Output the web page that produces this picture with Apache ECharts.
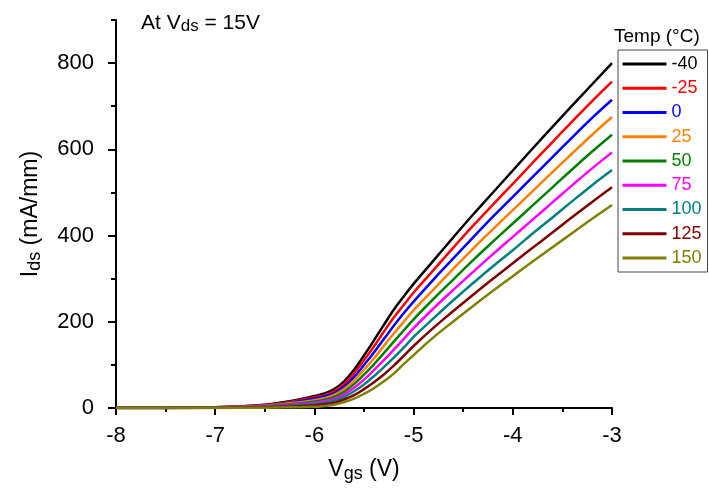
<!DOCTYPE html>
<html>
<head>
<meta charset="utf-8">
<script src="https://cdn.jsdelivr.net/npm/echarts@6/dist/echarts.min.js"></script>
<style>
html,body{margin:0;padding:0;background:#fff;}
#c{width:709px;height:488px;}
</style>
</head>
<body>
<div id="c"></div>
<script>
// Gate voltage samples (V)
var vgs = [-8, -7.5, -7, -6.5, -6.25, -6, -5.9, -5.8, -5.7, -5.6, -5.5, -5.4, -5.3, -5.2, -5.1, -5, -4.8, -4.6, -4.4, -4.2, -4, -3.8, -3.6, -3.4, -3.2, -3];
// Temperatures (°C)
var temps = ['-40', '-25', '0', '25', '50', '75', '100', '125', '150'];
// Ids (mA/mm) per temperature
var ids_m40 = [0, 0.5, 2, 8, 16, 28, 34, 44, 62, 89, 122, 157, 193, 228, 259, 288, 342, 396, 449, 500, 551, 602, 652, 702, 751, 800];
var ids_m25 = [0, 0.4, 1.8, 7, 14, 25, 30, 39.5, 56, 81, 111, 143, 177, 210, 239, 268, 320, 372, 423, 472, 520, 569, 617, 665, 712, 757];
var ids_0   = [0, 0.4, 1.6, 6, 12.5, 22, 27, 35, 50, 72, 100, 129, 160, 191, 220, 247, 298, 347, 396, 444, 490, 536, 582, 628, 673, 715];
var ids_25  = [0, 0.3, 1.4, 5.4, 11, 18.5, 23, 30.5, 44, 64, 89, 115, 144, 173, 200, 227, 275, 323, 370, 415, 459, 503, 547, 591, 634, 675];
var ids_50  = [0, 0.2, 1.2, 4.5, 9, 15.5, 19.5, 26, 38, 55.5, 77.5, 101.5, 127.5, 154, 180, 206, 253, 298, 343, 386, 428, 470, 512, 554, 595, 634];
var ids_75  = [0, 0.2, 1, 3.6, 7.3, 12.4, 16, 21.5, 32, 47, 66, 88, 111, 135.5, 160, 185.5, 231, 274, 316, 357, 397, 437, 477, 517, 556, 593];
var ids_100 = [0, 0.1, 0.8, 2.8, 5.5, 9.3, 12, 17, 26, 39, 55, 74, 95, 117, 140, 165, 208, 250, 290, 329, 366, 405, 442, 480, 517, 552];
var ids_125 = [0, 0.1, 0.5, 1.9, 3.8, 6, 8.6, 12.5, 20, 30, 44, 60, 78, 98.5, 121, 144, 186, 225, 263, 300, 336, 372, 407, 443, 478, 512];
var ids_150 = [0, 0, 0.3, 1, 2, 3, 5, 8, 14, 22, 33, 46, 62, 80, 102, 123, 164, 201, 237, 272, 306, 340, 373, 406, 439, 471];
var yMajor = [0, 200, 400, 600, 800];
var yMinor = [100, 300, 500, 700, 900];

var allIds = [ids_m40, ids_m25, ids_0, ids_25, ids_50, ids_75, ids_100, ids_125, ids_150];
var colors = ['#000000', '#ff0000', '#0000ff', '#ff8000', '#008000', '#ff00ff', '#008080', '#800000', '#808000'];

var FONT = '"Liberation Sans", Arial, sans-serif';

var series = temps.map(function (t, i) {
  return {
    name: t,
    type: 'line',
    data: vgs.map(function (v, j) { return [v, allIds[i][j]]; }),
    showSymbol: false,
    symbol: 'none',
    smooth: 0.4,
    lineStyle: { color: colors[i], width: 2.5 },
    itemStyle: { color: colors[i] },
    emphasis: { disabled: true }
  };
});

var chart = echarts.init(document.getElementById('c'), null, { renderer: 'canvas' });
chart.setOption({
  animation: false,
  backgroundColor: '#ffffff',
  textStyle: { fontFamily: FONT },
  title: [
    {
      text: '{a|At V}{s|ds}{a| = 15V}',
      left: 136, top: 7,
      textStyle: {
        fontWeight: 'normal',
        rich: {
          a: { fontSize: 21, fontWeight: 'normal', fontFamily: FONT, color: '#000', lineHeight: 23 },
          s: { fontSize: 17, fontWeight: 'normal', fontFamily: FONT, color: '#000', lineHeight: 17, padding: [11, 0, 0, 0], verticalAlign: 'bottom' }
        }
      }
    },
    {
      text: 'Temp (°C)',
      left: 609, top: 22,
      textStyle: { fontSize: 19, fontWeight: 'normal', fontFamily: FONT, color: '#000' }
    }
  ],
  legend: {
    orient: 'vertical',
    left: 618, top: 50,
    padding: [5, 6, 5, 3],
    itemWidth: 44,
    itemHeight: 17,
    itemGap: 6.25,
    itemTextGap: 6,
    borderColor: '#444',
    borderWidth: 1,
    itemStyle: { opacity: 0 },
    lineStyle: { width: 3 },
    textStyle: { fontSize: 18, fontFamily: FONT },
    data: temps.map(function (t, i) { return { name: t, textStyle: { color: colors[i] } }; })
  },
  grid: { left: 116, right: 97, top: 20, bottom: 69, containLabel: false },
  xAxis: {
    type: 'value', min: -8, max: -3, interval: 1,
    name: '{a|V}{s|gs}{a| (V)}',
    nameLocation: 'middle', nameGap: 34,
    nameTextStyle: {
      rich: {
        a: { fontSize: 23, fontFamily: FONT, color: '#000', lineHeight: 26 },
        s: { fontSize: 18, fontFamily: FONT, color: '#000', lineHeight: 18, padding: [13, 0, 0, 0], verticalAlign: 'bottom' }
      }
    },
    axisLine: { show: true, onZero: false, lineStyle: { color: '#000', width: 2 } },
    axisTick: { show: true, length: 7, lineStyle: { color: '#000', width: 2 } },
    minorTick: { show: true, splitNumber: 2, length: 4, lineStyle: { color: '#000', width: 2 } },
    axisLabel: { fontSize: 22, color: '#000', margin: 17, fontFamily: FONT },
    splitLine: { show: false },
    minorSplitLine: { show: false }
  },
  yAxis: [
    {
      type: 'value', min: 0, max: 900, interval: 100,
      name: '{a|I}{s|ds}{a| (mA/mm)}',
      nameLocation: 'middle', nameGap: 72, nameRotate: 90,
      nameTextStyle: {
        rich: {
          a: { fontSize: 23, fontFamily: FONT, color: '#000', lineHeight: 26 },
          s: { fontSize: 18, fontFamily: FONT, color: '#000', lineHeight: 18, padding: [13, 0, 0, 0], verticalAlign: 'bottom' }
        }
      },
      axisLine: { show: true, onZero: false, lineStyle: { color: '#000', width: 2 } },
      axisTick: { show: true, length: 8, customValues: yMajor, lineStyle: { color: '#000', width: 2 } },
      axisLabel: { fontSize: 22, color: '#000', margin: 22, customValues: yMajor, fontFamily: FONT },
      splitLine: { show: false }
    },
    {
      type: 'value', min: 0, max: 900, interval: 100, position: 'left',
      axisLine: { show: false },
      axisTick: { show: true, length: 5, customValues: yMinor, lineStyle: { color: '#000', width: 2 } },
      axisLabel: { show: false },
      splitLine: { show: false }
    }
  ],
  series: series
});
</script>
</body>
</html>
